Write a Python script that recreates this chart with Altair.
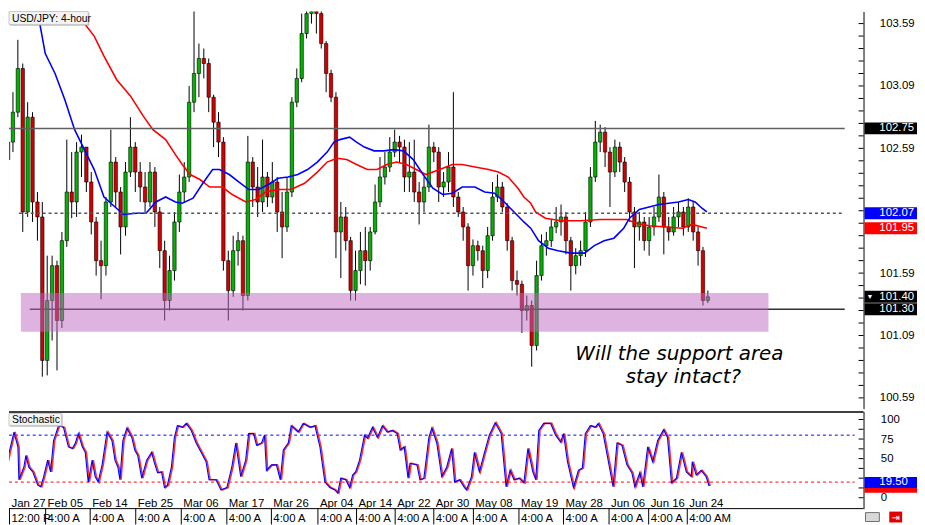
import altair as alt
import pandas as pd

FONT = "Liberation Sans"
GREEN = "#00b400"
RED = "#d40000"

# ---------------- candles (USD/JPY 4-hour) ----------------
first_open = 102.50
close = [102.64, 102.88, 103.23, 102.08, 102.84, 102.16, 102.04, 100.89, 101.37, 101.65,
         101.21, 101.85, 102.24, 102.16, 102.56, 102.60, 102.32, 102.00, 101.69, 101.65,
         102.16, 102.48, 102.24, 101.96, 102.40, 102.60, 102.40, 102.28, 102.16, 102.40,
         102.08, 101.77, 101.37, 101.61, 102.00, 102.24, 102.36, 102.96, 103.19, 103.31,
         103.27, 103.00, 102.80, 102.64, 101.69, 101.45, 101.77, 101.85, 101.41, 102.48,
         102.28, 102.16, 102.36, 102.20, 102.32, 102.08, 101.96, 102.24, 102.96, 103.15,
         103.51, 103.67, 103.71, 103.67, 103.43, 103.19, 103.00, 101.92, 102.04, 101.85,
         101.45, 101.61, 101.77, 101.69, 101.92, 102.16, 102.36, 102.44, 102.56, 102.64,
         102.60, 102.36, 102.40, 102.24, 102.16, 102.28, 102.60, 102.56, 102.28, 102.32,
         102.44, 102.20, 102.08, 101.96, 101.65, 101.81, 101.77, 101.61, 101.89, 102.20,
         102.28, 102.12, 101.85, 101.53, 101.50, 101.29, 101.33, 101.01, 101.57, 101.81,
         101.85, 101.96, 102.00, 102.04, 101.85, 101.65, 101.73, 101.77, 102.00, 102.36,
         102.64, 102.72, 102.56, 102.40, 102.60, 102.48, 102.32, 102.08, 101.96, 102.00,
         101.85, 101.96, 102.04, 102.20, 101.96, 101.92, 102.04, 102.08, 101.96, 102.12,
         101.92, 101.77, 101.37, 101.40]
high = [102.80, 103.04, 103.46, 103.27, 102.96, 102.88, 102.24, 102.16, 101.73, 101.73,
        101.69, 101.92, 102.66, 102.56, 102.64, 102.70, 102.60, 102.40, 102.04, 101.85,
        102.20, 102.74, 102.52, 102.28, 102.48, 102.84, 102.64, 102.48, 102.40, 102.48,
        102.44, 102.12, 101.85, 101.73, 102.08, 102.38, 102.48, 103.09, 103.74, 103.43,
        103.39, 103.31, 103.02, 102.88, 102.68, 101.77, 101.89, 101.92, 101.89, 102.69,
        102.52, 102.44, 102.66, 102.40, 102.48, 102.36, 102.24, 102.36, 103.00, 103.23,
        103.67, 103.74, 103.74, 103.74, 103.74, 103.45, 103.22, 103.04, 102.16, 102.12,
        101.88, 101.77, 101.92, 101.96, 101.96, 102.30, 102.52, 102.56, 102.68, 102.74,
        102.69, 102.66, 102.64, 102.66, 102.32, 102.36, 102.78, 102.64, 102.60, 102.40,
        102.56, 103.04, 102.24, 102.12, 101.99, 101.86, 101.85, 101.81, 101.96, 102.32,
        102.38, 102.32, 102.15, 101.88, 101.61, 101.53, 101.41, 101.37, 101.69, 101.90,
        101.92, 102.02, 102.12, 102.14, 102.08, 101.88, 101.79, 101.85, 102.08, 102.44,
        102.81, 102.78, 102.76, 102.60, 102.66, 102.64, 102.52, 102.36, 102.12, 102.08,
        102.04, 102.04, 102.12, 102.38, 102.24, 102.04, 102.12, 102.16, 102.12, 102.19,
        102.16, 101.96, 101.80, 101.45]
low = [102.16, 102.56, 102.84, 101.92, 102.04, 102.00, 101.85, 100.76, 100.77, 101.05,
       100.81, 101.15, 101.80, 102.03, 102.04, 102.36, 102.24, 101.90, 101.57, 101.38,
       101.57, 102.12, 102.12, 101.74, 101.89, 102.36, 102.24, 102.16, 102.08, 102.12,
       101.96, 101.63, 101.21, 101.29, 101.53, 101.92, 102.16, 102.32, 102.88, 103.00,
       103.15, 102.88, 102.60, 102.52, 101.61, 101.21, 101.40, 101.65, 101.29, 101.37,
       102.12, 102.04, 102.08, 102.12, 102.15, 101.92, 101.71, 101.92, 102.20, 102.92,
       103.12, 103.47, 103.59, 103.51, 103.39, 103.04, 102.96, 101.71, 101.55, 101.77,
       101.37, 101.37, 101.50, 101.49, 101.61, 101.90, 102.12, 102.30, 102.40, 102.52,
       102.48, 102.24, 102.24, 102.16, 101.98, 102.08, 102.24, 102.48, 102.16, 102.20,
       102.24, 102.12, 102.04, 101.85, 101.45, 101.57, 101.69, 101.47, 101.55, 101.85,
       102.16, 102.08, 101.77, 101.45, 101.41, 101.11, 101.21, 100.84, 100.97, 101.53,
       101.73, 101.80, 101.91, 101.89, 101.74, 101.45, 101.58, 101.65, 101.72, 101.96,
       102.32, 102.56, 102.44, 102.12, 102.36, 102.40, 102.24, 102.00, 101.63, 101.85,
       101.77, 101.73, 101.89, 102.00, 101.74, 101.85, 101.89, 101.96, 101.89, 101.92,
       101.85, 101.65, 101.33, 101.35]

# ---------------- moving averages (bar-index position, price) ----------------
blue_t = [5.4, 6.2, 7.6, 9.6, 11.6, 13.6, 15.6, 17.6, 19.6, 21.0, 23.6, 26.2, 28.2, 30.2, 32.2,
          34.2, 35.6, 37.8, 39.8, 41.8, 43.2, 45.2, 47.2, 49.2, 51.2, 53.2, 55.2, 57.2, 59.2, 61.2,
          63.2, 65.2, 66.6, 67.8, 69.8, 71.2, 72.8, 74.8, 76.8, 78.8, 80.8, 82.8, 84.8, 86.8, 88.8,
          90.8, 92.8, 95.4, 97.4, 99.4, 101.4, 103.4, 105.4, 106.8, 108.4, 110.4, 112.4, 115.0, 117.8,
          119.8, 121.8, 123.8, 125.8, 127.0, 129.0, 131.0, 133.0, 135.0, 137.0, 139.0, 140.4, 141.8, 142.8]
blue_p = [103.75, 103.65, 103.35, 103.19, 102.98, 102.74, 102.58, 102.42, 102.20, 102.15, 102.06, 102.07,
          102.07, 102.16, 102.20, 102.16, 102.15, 102.19, 102.31, 102.42, 102.42, 102.38, 102.32, 102.26,
          102.26, 102.30, 102.35, 102.36, 102.38, 102.42, 102.48, 102.56, 102.64, 102.66, 102.68, 102.64,
          102.60, 102.57, 102.57, 102.58, 102.57, 102.50, 102.38, 102.27, 102.22, 102.23, 102.28, 102.28,
          102.24, 102.23, 102.16, 102.08, 102.00, 101.95, 101.85, 101.79, 101.77, 101.75, 101.75, 101.81,
          101.85, 101.87, 101.95, 102.03, 102.10, 102.12, 102.14, 102.15, 102.16, 102.18, 102.16, 102.11,
          102.08]
red_t = [10.6, 11.6, 15.6, 17.6, 19.6, 22.2, 25.0, 27.6, 29.6, 32.2, 34.2, 35.6, 37.2, 39.2, 41.2,
         43.8, 45.8, 48.6, 50.6, 52.6, 55.2, 57.8, 60.6, 63.2, 65.2, 67.2, 69.2, 71.2, 73.4, 75.4,
         77.4, 79.4, 81.4, 83.4, 85.4, 88.2, 90.8, 92.8, 95.4, 98.2, 100.2, 102.2, 104.2, 105.4, 106.8,
         107.8, 109.8, 113.0, 117.0, 121.0, 124.4, 126.4, 128.4, 131.0, 134.4, 137.8, 139.8, 141.8, 142.8]
red_p = [103.81, 103.75, 103.59, 103.49, 103.33, 103.14, 103.01, 102.85, 102.74, 102.66, 102.54, 102.46,
         102.38, 102.34, 102.28, 102.28, 102.22, 102.16, 102.18, 102.24, 102.26, 102.26, 102.31, 102.40,
         102.48, 102.51, 102.50, 102.46, 102.42, 102.42, 102.46, 102.48, 102.46, 102.42, 102.38, 102.42,
         102.46, 102.46, 102.44, 102.42, 102.40, 102.36, 102.27, 102.20, 102.15, 102.08, 102.03, 102.01,
         102.01, 102.02, 102.02, 102.02, 101.99, 101.97, 101.96, 101.95, 101.98, 101.96, 101.95]

# ---------------- stochastic (bar-index position, value) ----------------
stoch_t = [0, 0.6, 1.2, 2.2, 3.0, 3.2, 4.2, 4.6, 5.2, 6.0, 7.0, 7.6, 8.2, 9.0, 9.6, 10.2, 11.2, 12.2,
           13.2, 14.0, 14.6, 15.2, 16.0, 16.6, 17.2, 18.0, 18.6, 19.2, 20.0, 21.0, 22.0, 22.6, 23.2, 23.6,
           24.2, 25.0, 26.0, 26.6, 27.2, 28.0, 29.0, 30.0, 30.6, 31.2, 32.0, 32.6, 33.2, 34.0, 34.6, 35.2,
           36.2, 37.0, 38.0, 39.0, 40.0, 41.0, 41.6, 43.0, 44.0, 45.2, 46.2, 47.0, 48.0, 49.0, 49.6, 50.6,
           51.2, 52.2, 52.8, 53.2, 54.2, 55.2, 56.0, 56.6, 57.6, 58.2, 59.6, 60.6, 62.0, 63.0, 64.0, 65.0,
           66.0, 67.0, 67.6, 68.2, 69.2, 70.0, 70.6, 71.2, 72.0, 73.0, 73.6, 74.6, 75.6, 76.6, 77.6, 78.6,
           79.6, 80.2, 81.0, 81.8, 82.2, 83.6, 84.2, 85.0, 86.0, 86.6, 87.6, 88.6, 89.6, 90.6, 91.2, 92.2,
           93.2, 93.6, 94.6, 95.2, 96.2, 97.2, 98.2, 99.4, 100.6, 101.6, 102.4, 103.2, 104.2, 105.2, 106.0,
           107.0, 107.6, 108.2, 109.2, 110.6, 111.6, 112.6, 113.2, 114.0, 115.2, 116.2, 117.0, 117.6, 118.6,
           119.6, 120.2, 121.2, 122.6, 123.2, 124.0, 125.0, 126.0, 127.0, 127.6, 128.6, 129.2, 130.2, 131.2,
           132.2, 133.4, 134.2, 135.0, 136.0, 137.0, 138.0, 139.0, 139.2, 140.0, 141.0, 142.0, 142.6]
stoch_v = [23, 39, 57, 84, 65, 23, 39, 54, 39, 33, 16, 14, 27, 48, 33, 73, 92, 90,
           65, 63, 70, 82, 65, 58, 20, 48, 27, 20, 42, 84, 73, 48, 39, 23,
           73, 89, 77, 61, 54, 25, 48, 58, 44, 32, 33, 13, 16, 39, 77, 92,
           90, 95, 86, 70, 58, 46, 23, 23, 10, 13, 39, 70, 27, 48, 82, 82,
           67, 70, 80, 35, 42, 42, 23, 61, 70, 92, 84, 95, 90, 92, 65, 20,
           13, 10, 6, 25, 23, 13, 29, 33, 48, 80, 76, 90, 77, 92, 84, 86,
           82, 61, 65, 25, 44, 42, 23, 25, 77, 89, 70, 27, 39, 63, 20, 23,
           13, 10, 27, 58, 33, 57, 80, 96, 82, 14, 35, 23, 25, 19, 63,
           33, 23, 86, 95, 95, 80, 71, 82, 46, 13, 35, 38, 82, 92,
           90, 95, 82, 35, 14, 70, 67, 42, 32, 14, 32, 14, 65, 46,
           73, 87, 77, 19, 25, 58, 33, 27, 46, 29, 35, 27, 15]

# ---------------- levels, labels ----------------
resistance = 102.75
mid_level = 102.07
support = 101.30
zone_top = 101.43
zone_bottom = 101.12
price_labels = [103.59, 103.09, 102.59, 101.59, 101.09, 100.59]
price_ticks = [100.59, 100.69, 100.79, 100.89, 100.99, 101.09, 101.19, 101.29, 101.39, 101.49, 101.59,
               101.69, 101.79, 101.89, 101.99, 102.09, 102.19, 102.29, 102.39, 102.49, 102.59, 102.69,
               102.79, 102.89, 102.99, 103.09, 103.19, 103.29, 103.39, 103.49, 103.59]
hl_vals = [102.75, 102.07, 101.95, 101.40, 101.30]
hl_fill = ["#000000", "#0000ff", "#ff0000", "#000000", "#000000"]
stoch_labels = [100, 75, 50, 0]
stoch_ticks = [0, 12.5, 25, 37.5, 50, 62.5, 75, 87.5, 100]
stoch_hi, stoch_lo = 80, 20
stoch_k_last, stoch_d_last = 19.50, 19.11
date_pos = [1.3, 8.6, 17.6, 26.8, 36.0, 45.2, 54.2, 63.6, 71.4, 79.2, 87.0, 95.0, 104.2, 113.2, 122.4, 130.4, 138.2]
date_labels = ["Jan 27", "Feb 05", "Feb 14", "Feb 25", "Mar 06", "Mar 17", "Mar 26", "Apr 04", "Apr 14",
               "Apr 22", "Apr 30", "May 08", "May 19", "May 28", "Jun 06", "Jun 16", "Jun 24"]
time_labels = ["12:00 PM"] + ["4:00 AM"] * 16
title_text = "USD/JPY: 4-hour"
annot1 = "Will the support area"
annot2 = "stay intact?"

# ---------------- tables ----------------
opens = [first_open] + close[:-1]
cdf = pd.DataFrame({"i": list(range(len(close))), "open": opens, "close": close, "high": high, "low": low})
cdf["dir"] = ["up" if c >= o else "down" for c, o in zip(close, opens)]
bdf = pd.DataFrame({"t": blue_t, "p": blue_p})
rdf = pd.DataFrame({"t": red_t, "p": red_p})
sdf = pd.DataFrame({"t": stoch_t, "v": stoch_v})
hdf = pd.DataFrame({"v": hl_vals, "fill": hl_fill, "lab": [f"{v:.2f}" for v in hl_vals]})
hdf["top"] = hdf["v"] + 0.048
hdf["bot"] = hdf["v"] - 0.048
ddf = pd.DataFrame({"pos": date_pos, "d": date_labels, "tm": time_labels})
one = pd.DataFrame({"a": [0]})

W, H1, H2 = 863, 401, 98
xs = alt.Scale(domain=[1.2, 173.8], nice=False, zero=False)
ys = alt.Scale(domain=[100.504, 103.6865], nice=False, zero=False)
ss = alt.Scale(domain=[-13.92, 110.13], nice=False, zero=False)

yax = alt.Axis(orient="right", values=price_labels, format=".2f", tickSize=0, labelPadding=16,
               domainColor="#000000", labelFont=FONT, labelFontSize=11.5, labelColor="#000000",
               grid=False, title=None, labelOverlap=False, labelFlush=False)
sax = alt.Axis(orient="right", values=stoch_labels, format="d", tickSize=0, labelPadding=17,
               domainColor="#000000", labelFont=FONT, labelFontSize=11.5, labelColor="#000000",
               grid=False, title=None, labelOverlap=False, labelFlush=False)

X = lambda f: alt.X(f, scale=xs, axis=None)
Y = lambda f: alt.Y(f, scale=ys, axis=yax)
S = lambda f: alt.Y(f, scale=ss, axis=sax)

# ---------------- main panel ----------------
wicks = alt.Chart(cdf).mark_rule(color="#000000", strokeWidth=1, clip=True).encode(
    x=X("i:Q"), y=Y("low:Q"), y2="high:Q")
bodies = alt.Chart(cdf).mark_bar(size=3.4, stroke="#000000", strokeWidth=0.6, clip=True).encode(
    x=X("i:Q"), y=Y("open:Q"), y2="close:Q",
    color=alt.Color("dir:N", scale=alt.Scale(domain=["up", "down"], range=[GREEN, RED]), legend=None))
ma_red = alt.Chart(rdf).mark_line(color="#ff0000", strokeWidth=1.6, clip=True).encode(x=X("t:Q"), y=Y("p:Q"))
ma_blue = alt.Chart(bdf).mark_line(color="#0000ff", strokeWidth=1.6, clip=True).encode(x=X("t:Q"), y=Y("p:Q"))
res_line = alt.Chart(pd.DataFrame({"v": [resistance]})).mark_rule(color="#606060", strokeWidth=1.5).encode(
    x=alt.value(0), x2=alt.value(844), y=Y("v:Q"))
mid_line = alt.Chart(pd.DataFrame({"v": [mid_level]})).mark_rule(color="#555555", strokeWidth=1.5, strokeDash=[3, 3]).encode(
    x=alt.value(10), x2=alt.value(844), y=Y("v:Q"))
sup_line = alt.Chart(pd.DataFrame({"v": [support]})).mark_rule(color="#303030", strokeWidth=1.5).encode(
    x=alt.value(21), x2=alt.value(844), y=Y("v:Q"))
zone = alt.Chart(pd.DataFrame({"top": [zone_top], "bot": [zone_bottom]})).mark_rect(fill="#bf67bf", opacity=0.5).encode(
    x=alt.value(12), x2=alt.value(767), y=Y("top:Q"), y2="bot:Q")
ticks_r = alt.Chart(pd.DataFrame({"v": price_ticks})).mark_rule(color="#000000").encode(
    x=alt.value(858), x2=alt.value(863), y=Y("v:Q"))
hl_box = alt.Chart(hdf).mark_rect().encode(
    x=alt.value(864), x2=alt.value(917), y=Y("top:Q"), y2="bot:Q", fill=alt.Fill("fill:N", scale=None))
hl_txt = alt.Chart(hdf).mark_text(align="left", baseline="middle", color="#ffffff", font=FONT, fontSize=11.5).encode(
    x=alt.value(879), y=Y("v:Q"), text="lab:N")
tri = alt.Chart(pd.DataFrame({"v": [hl_vals[3]]})).mark_text(text="\u25bc", color="#ffffff", fontSize=7, align="left", baseline="middle").encode(
    x=alt.value(866), y=Y("v:Q"))
title_shadow = alt.Chart(one).mark_rect(fill="#a0a0a0").encode(x=alt.value(1), x2=alt.value(81), y=alt.value(1), y2=alt.value(14))
title_box = alt.Chart(one).mark_rect(fill="#f4f4f4", stroke="#c8c8c8", strokeWidth=1).encode(
    x=alt.value(0), x2=alt.value(80), y=alt.value(0), y2=alt.value(13))
title_txt = alt.Chart(one).mark_text(text=title_text, align="left", baseline="alphabetic", font=FONT, fontSize=10.5, color="#000000").encode(
    x=alt.value(3), y=alt.value(11))
ann1 = alt.Chart(one).mark_text(text=annot1, align="center", baseline="alphabetic", font="DejaVu Sans", fontStyle="italic",
                                fontSize=20, color="#000000").encode(x=alt.value(677), y=alt.value(352))
ann2 = alt.Chart(one).mark_text(text=annot2, align="center", baseline="alphabetic", font="DejaVu Sans", fontStyle="italic",
                                fontSize=20, color="#000000").encode(x=alt.value(681), y=alt.value(375))

main = alt.layer(wicks, bodies, ma_red, ma_blue, res_line, mid_line, sup_line, zone, ticks_r,
                 hl_box, hl_txt, tri, title_shadow, title_box, title_txt, ann1, ann2).properties(width=W, height=H1)

# ---------------- stochastic panel ----------------
top_border = alt.Chart(one).mark_rule(color="#000000", strokeWidth=1.5).encode(x=alt.value(0), x2=alt.value(863), y=alt.value(0.5))
bot_border = alt.Chart(one).mark_rule(color="#000000", strokeWidth=1).encode(x=alt.value(0), x2=alt.value(863), y=alt.value(98))
hi_line = alt.Chart(pd.DataFrame({"v": [stoch_hi]})).mark_rule(color="#0000ff", strokeDash=[3, 3]).encode(
    x=alt.value(0), x2=alt.value(854), y=S("v:Q"))
lo_line = alt.Chart(pd.DataFrame({"v": [stoch_lo]})).mark_rule(color="#ff0000", strokeDash=[3, 3]).encode(
    x=alt.value(0), x2=alt.value(854), y=S("v:Q"))
st_red = alt.Chart(sdf).mark_line(color="#ff3030", strokeWidth=1.6, xOffset=1.2, clip=True).encode(x=X("t:Q"), y=S("v:Q"))
st_blue = alt.Chart(sdf).mark_line(color="#0000ff", strokeWidth=1.1, clip=True).encode(x=X("t:Q"), y=S("v:Q"))
sticks = alt.Chart(pd.DataFrame({"v": stoch_ticks})).mark_rule(color="#000000").encode(
    x=alt.value(858), x2=alt.value(863), y=S("v:Q"))
d_box = alt.Chart(one).mark_rect(fill="#ff0000").encode(x=alt.value(864), x2=alt.value(917), y=alt.value(76), y2=alt.value(82))
k_box = alt.Chart(pd.DataFrame({"top": [stoch_k_last + 7], "bot": [stoch_k_last - 7]})).mark_rect(fill="#0000ff").encode(
    x=alt.value(864), x2=alt.value(917), y=S("top:Q"), y2="bot:Q")
k_txt = alt.Chart(pd.DataFrame({"v": [stoch_k_last], "lab": [f"{stoch_k_last:.2f}"]})).mark_text(
    align="left", baseline="middle", color="#ffffff", font=FONT, fontSize=11.5).encode(x=alt.value(879), y=S("v:Q"), text="lab:N")
st_shadow = alt.Chart(one).mark_rect(fill="#a0a0a0").encode(x=alt.value(1), x2=alt.value(54), y=alt.value(3), y2=alt.value(15))
st_box = alt.Chart(one).mark_rect(fill="#f4f4f4", stroke="#c8c8c8").encode(x=alt.value(0), x2=alt.value(53), y=alt.value(2), y2=alt.value(14))
st_txt = alt.Chart(one).mark_text(text="Stochastic", align="left", baseline="alphabetic", font=FONT, fontSize=10.5).encode(
    x=alt.value(3), y=alt.value(12))
dates = alt.Chart(ddf).mark_text(align="left", baseline="alphabetic", dx=2, font=FONT, fontSize=11.5, color="#000000").encode(
    x=X("pos:Q"), y=alt.value(96), text="d:N")
times_cut = alt.Chart(ddf.iloc[:-1]).mark_text(align="left", baseline="alphabetic", dx=2, font=FONT, fontSize=11.5,
                                              color="#000000", limit=40, ellipsis="\u200b").encode(
    x=X("pos:Q"), y=alt.value(112), text="tm:N")
times_last = alt.Chart(ddf.iloc[-1:]).mark_text(align="left", baseline="alphabetic", dx=2, font=FONT, fontSize=11.5,
                                               color="#000000").encode(
    x=X("pos:Q"), y=alt.value(112), text="tm:N")
seps = alt.Chart(ddf).mark_rule(color="#000000").encode(x=X("pos:Q"), y=alt.value(98), y2=alt.value(114))
icon1 = alt.Chart(one).mark_rect(fill="#d8d8d8", stroke="#707070").encode(x=alt.value(865), x2=alt.value(879), y=alt.value(102), y2=alt.value(111))
icon2 = alt.Chart(one).mark_rect(fill="#e00000").encode(x=alt.value(889), x2=alt.value(902), y=alt.value(101), y2=alt.value(112))
icon2t = alt.Chart(one).mark_text(text="\u21e5", color="#ffffff", fontSize=10, font="DejaVu Sans").encode(x=alt.value(895.5), y=alt.value(107))

stoch = alt.layer(hi_line, lo_line, st_red, st_blue, sticks, top_border, bot_border, d_box, k_box, k_txt,
                  st_shadow, st_box, st_txt, dates, seps, times_cut, times_last, icon1, icon2, icon2t).properties(width=W, height=H2)

chart = alt.vconcat(main, stoch, spacing=2).properties(padding=0, background="#ffffff").configure_view(strokeWidth=0)

chart.save("out.html", embed_options={"renderer": "svg", "actions": False})
